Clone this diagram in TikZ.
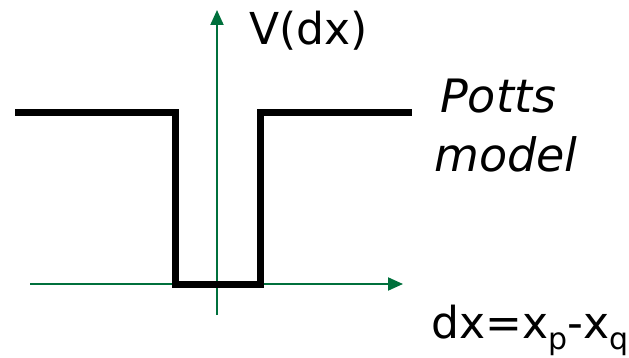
\documentclass[tikz,border=0pt]{standalone}
\usepackage{fontspec}
\setmainfont{DejaVu Sans}
\usetikzlibrary{arrows.meta}
\definecolor{axisgreen}{RGB}{0,112,60}
\begin{document}
\begin{tikzpicture}[x=1pt,y=-1pt,
  axis/.style={draw=axisgreen,line width=2pt,-{Triangle[length=15pt,width=13pt]}},
  pot/.style={draw=black,line width=7pt,line join=miter},
  lbl/.style={inner sep=0pt,anchor=base west,font=\fontsize{44}{48}\selectfont},
  ilbl/.style={lbl,font=\fontsize{46}{50}\selectfont\itshape}]
\useasboundingbox (0,0) rectangle (629,358);
\coordinate (vb) at (217,315);
\coordinate (vt) at (217,10);
\coordinate (hl) at (30,284);
\coordinate (hr) at (403,284);
\draw[axis] (vb) -- (vt);
\draw[axis] (hl) -- (hr);
\coordinate (p1) at (15,113);
\coordinate (p2) at (175,113);
\coordinate (p3) at (175,284);
\coordinate (p4) at (260,284);
\coordinate (p5) at (260,113);
\coordinate (p6) at (412,113);
\draw[pot] (p1) -- (p2) -- (p3) -- (p4) -- (p5) -- (p6);
\node[lbl] (v) at (249,45) {V(dx)};
\node[ilbl] (pt) at (440,113) {Potts};
\node[ilbl] (md) at (434,172) {model};
\node[lbl] (dx) at (431,338) {dx=x\raisebox{-0.25em}{\fontsize{30}{32}\selectfont p}-x\raisebox{-0.25em}{\fontsize{30}{32}\selectfont q}};
\end{tikzpicture}
\end{document}
